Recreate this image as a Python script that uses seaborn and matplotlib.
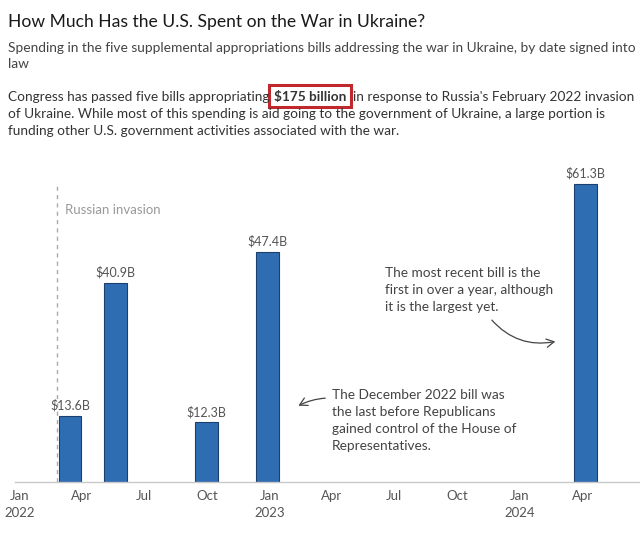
import matplotlib
matplotlib.use("Agg")
import matplotlib.pyplot as plt
import matplotlib.dates as mdates
from matplotlib.patches import Rectangle
import seaborn as sns
import pandas as pd

# ---- data ----
sign_dates = ["2022-03-15", "2022-05-21", "2022-09-30", "2022-12-29", "2024-04-05"]
amounts = [13.6, 40.9, 12.3, 47.4, 61.3]
value_labels = ["$13.6B", "$40.9B", "$12.3B", "$47.4B", "$61.3B"]
tick_dates = ["2022-01-01", "2022-04-01", "2022-07-01", "2022-10-01", "2023-01-01",
              "2023-04-01", "2023-07-01", "2023-10-01", "2024-01-01", "2024-04-01"]
tick_labels = ["Jan\n2022", "Apr", "Jul", "Oct", "Jan\n2023",
               "Apr", "Jul", "Oct", "Jan\n2024", "Apr"]
invasion_date = "2022-02-24"

sns.set_theme(style="white")
plt.rcParams['font.family'] = ['Lato', 'DejaVu Sans']

W, H = 640, 538
fig = plt.figure(figsize=(6.4, 5.38), dpi=100)
fig.patch.set_facecolor("white")


def fx(px):
    return px / W


def fy(py):
    return 1 - py / H


ax = fig.add_axes([fx(15), fy(482), (640 - 15) / W, 300 / H])

xnum = mdates.date2num(pd.to_datetime(sign_dates))
df = pd.DataFrame({"date": xnum, "amount": amounts})
sns.barplot(data=df, x="date", y="amount", native_scale=True, orient="x",
            width=0.5, color="#2f6db3", saturation=1, errorbar=None,
            edgecolor="#1d3f6b", linewidth=0.8, ax=ax)

base = mdates.date2num(pd.Timestamp("2022-01-01"))
ax.set_xlim(base - 7.3, base + 905.2)
ax.set_ylim(0, 61.7)

ax.bar_label(ax.containers[0], labels=value_labels, padding=3,
             color="#555555", fontsize=9)

ax.axvline(mdates.date2num(pd.Timestamp(invasion_date)), color="#aaaaaa",
           ls=(0, (3, 3)), lw=1)

ax.set_xticks(mdates.date2num(pd.to_datetime(tick_dates)))
ax.set_xticklabels(tick_labels, color="#555555", fontsize=9.5, linespacing=1.5)
ax.tick_params(axis="x", length=0, pad=6)
ax.set_yticks([])
ax.set_xlabel("")
ax.set_ylabel("")
for s in ["top", "right", "left"]:
    ax.spines[s].set_visible(False)
ax.spines["bottom"].set_color("#c8c8c8")
ax.spines["bottom"].set_linewidth(1)

# ---- header text ----
fig.text(fx(8), fy(22), "How Much Has the U.S. Spent on the War in Ukraine?",
         fontsize=12.6, color="#1a1a1a", va="center")
sub_kw = dict(fontsize=9.9, color="#444444", va="center")
fig.text(fx(8), fy(48), "Spending in the five supplemental appropriations bills addressing the war in Ukraine, by date signed into",
         **sub_kw)
fig.text(fx(8), fy(64), "law", **sub_kw)

body_kw = dict(fontsize=9.8, color="#333333", va="center")
t1 = fig.text(fx(8), fy(97), "Congress has passed five bills appropriating", **body_kw)
fig.canvas.draw()
r = fig.canvas.get_renderer()
e1 = t1.get_window_extent(r)
tb = fig.text((e1.x1 + 5) / W, fy(97), "$175 billion", fontweight="bold", **body_kw)
eb = tb.get_window_extent(r)
fig.text((eb.x1 + 6) / W, fy(97), "in response to Russia's February 2022 invasion", **body_kw)
fig.patches.append(Rectangle((eb.x0 - 5, (H - 107)), (eb.x1 - eb.x0) + 9, 22,
                             transform=None, fill=False, ec="#c0282e", lw=2.2))
fig.text(fx(8), fy(114), "of Ukraine. While most of this spending is aid going to the government of Ukraine, a large portion is", **body_kw)
fig.text(fx(8), fy(131), "funding other U.S. government activities associated with the war.", **body_kw)

# ---- annotations ----
fig.text(fx(65), fy(210), "Russian invasion", fontsize=9.5, color="#999999", va="center")

ann_kw = dict(fontsize=9.8, color="#444444", va="center")
for i, line in enumerate(["The most recent bill is the", "first in over a year, although",
                          "it is the largest yet."]):
    fig.text(fx(385), fy(273 + 17 * i), line, **ann_kw)
for i, line in enumerate(["The December 2022 bill was", "the last before Republicans",
                          "gained control of the House of", "Representatives."]):
    fig.text(fx(332), fy(395 + 17 * i), line, **ann_kw)

arrow_kw = dict(arrowstyle="->,head_length=0.45,head_width=0.25", color="#444444", lw=0.9)
ax.annotate("", xy=(fx(558), fy(341)), xycoords="figure fraction",
            xytext=(fx(490), fy(318)), textcoords="figure fraction",
            arrowprops=dict(connectionstyle="arc3,rad=0.3", **arrow_kw))
ax.annotate("", xy=(fx(296), fy(407)), xycoords="figure fraction",
            xytext=(fx(328), fy(398)), textcoords="figure fraction",
            arrowprops=dict(connectionstyle="arc3,rad=0.12", **arrow_kw))

fig.savefig("out.png", dpi=100, facecolor="white")
